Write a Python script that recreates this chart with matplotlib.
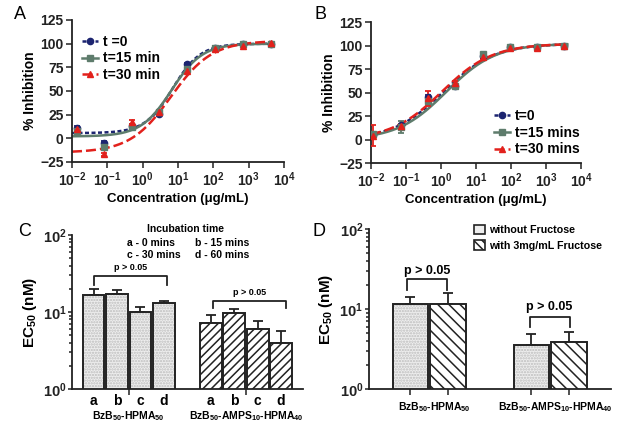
import numpy as np
import matplotlib
matplotlib.use("Agg")
import matplotlib.pyplot as plt
from matplotlib.lines import Line2D

plt.rcParams['font.family'] = ['Liberation Sans', 'DejaVu Sans']
plt.rcParams['font.weight'] = 'bold'
plt.rcParams['mathtext.fontset'] = 'custom'
plt.rcParams['mathtext.rm'] = 'Liberation Sans:bold'
plt.rcParams['mathtext.bf'] = 'Liberation Sans:bold'
plt.rcParams['mathtext.it'] = 'Liberation Sans:bold'
plt.rcParams['hatch.linewidth'] = 1.1

# ---- panel A data ----
conc_a = [0.0136, 0.082, 0.49, 2.95, 18.5, 108, 690, 4200]
a_t0 = [10.6, -5.3, 13.4, 25.8, 78, 95.6, 99.8, 100]
a_t15 = [8.1, -8.8, 12.4, 28.2, 73.4, 95, 99.5, 100]
a_t30 = [10, -17, 17, 27.5, 71, 94, 98, 101]
a_err = [2, 2, 2, 2, 2, 1.5, 1, 1]
# fitted 4PL params: bottom, top, logEC50, hill
fit_a_t0 = (5.5, 100, 0.85, 1.1)
fit_a_t15 = (2, 100, 0.82, 1.0)
fit_a_t30 = (-15, 103, 0.8, 0.75)

# ---- panel B data ----
conc_b = [0.0115, 0.071, 0.42, 2.55, 15.3, 92, 550, 3300]
b_t0 = [5.3, 15.2, 45, 56.6, 88.5, 98, 98.5, 100]
b_t15 = [6, 13.4, 41.4, 56.6, 91, 98, 98.5, 100]
b_t30 = [4.5, 15, 44, 60.2, 87.4, 97.5, 97.3, 99.3]
b_err_t0 = [2, 2, 2, 2, 1.5, 1, 1, 1]
b_err_t15 = [2, 6, 2, 2, 1.5, 1, 1, 1]
b_err_t30 = [11.5, 2, 8, 2, 1.5, 1, 1, 1]
fit_b_t0 = (0, 102, 0.07, 0.6)
fit_b_t15 = (0, 102, 0.15, 0.62)
fit_b_t30 = (0, 102, 0.02, 0.6)

# ---- panel C data ----
c_groups = ['BzB$_{50}$-HPMA$_{50}$', 'BzB$_{50}$-AMPS$_{10}$-HPMA$_{40}$']
c_letters = ['a', 'b', 'c', 'd']
c_hpma = [16.6, 17.3, 10.1, 13.0]
c_hpma_err = [3.1, 2.0, 1.4, 1.0]
c_amps = [7.3, 9.6, 6.0, 3.9]
c_amps_err = [1.8, 1.2, 1.6, 1.7]

# ---- panel D data ----
d_groups = ['BzB$_{50}$-HPMA$_{50}$', 'BzB$_{50}$-AMPS$_{10}$-HPMA$_{40}$']
d_without = [11.5, 3.5]
d_without_err = [2.4, 1.3]
d_with = [11.4, 3.8]
d_with_err = [4.2, 1.3]

BLUE = '#1c2470'
GREEN = '#5e7c6c'
RED = '#e2211c'
DARK = '#222222'


def fourpl(x, p):
    bottom, top, logec, hill = p
    return bottom + (top - bottom) / (1 + 10 ** ((logec - np.log10(x)) * hill))


def style_axis(ax, fs=10):
    for s in ['top', 'right']:
        ax.spines[s].set_visible(False)
    for s in ['left', 'bottom']:
        ax.spines[s].set_linewidth(1.3)
        ax.spines[s].set_color(DARK)
    ax.tick_params(which='both', direction='out', width=1.1, colors=DARK, labelsize=fs)
    ax.tick_params(which='major', length=4, pad=2)
    ax.tick_params(which='minor', length=2)


def dose_panel(ax, conc, series, errs, fits, labels, leg_loc, leg_anchor):
    xs = np.logspace(-2, 3.6, 300)
    cols = [BLUE, GREEN, RED]
    marks = ['o', 's', '^']
    dashes = [(1.6, 1.0), None, (4.0, 1.6)]
    handles = []
    for y, e, p, c, m, d, lab in zip(series, errs, fits, cols, marks, dashes, labels):
        ln, = ax.plot(xs, fourpl(xs, p), color=c, lw=1.8)
        if d is not None:
            ln.set_dashes(d)
        ax.errorbar(conc, y, yerr=e, fmt=m, color=c, ms=4.5, elinewidth=1.3,
                    capsize=2.5, capthick=1.3, zorder=3)
        h = Line2D([], [], color=c, lw=1.8, marker=m, ms=4.5)
        if d is not None:
            h.set_dashes(d)
        handles.append(h)
    ax.set_xscale('log')
    ax.set_xlim(0.01, 10000)
    ax.set_ylim(-25, 125)
    ax.set_yticks([-25, 0, 25, 50, 75, 100, 125])
    ax.set_xticks([1e-2, 1e-1, 1, 10, 100, 1e3, 1e4])
    ax.set_xticklabels([r'$10^{-2}$', r'$10^{-1}$', r'$10^{0}$', r'$10^{1}$',
                        r'$10^{2}$', r'$10^{3}$', r'$10^{4}$'])
    ax.set_xlabel('Concentration (\u03bcg/mL)', fontsize=9.5, fontweight='bold', labelpad=3)
    ax.set_ylabel('% Inhibition', fontsize=10, fontweight='bold', labelpad=2)
    style_axis(ax, 10)
    ax.legend(handles, labels, loc=leg_loc, bbox_to_anchor=leg_anchor, frameon=False,
              handlelength=1.1, handletextpad=0.35, labelspacing=0.2,
              prop={'weight': 'bold', 'size': 10})


fig = plt.figure(figsize=(6.24, 4.28), dpi=100)

# A
axA = fig.add_axes([0.1154, 0.6215, 0.3397, 0.3318])
dose_panel(axA, conc_a, [a_t0, a_t15, a_t30], [a_err, a_err, a_err],
           [fit_a_t0, fit_a_t15, fit_a_t30], ['t =0', 't=15 min', 't=30 min'],
           'upper left', (-0.01, 0.985))

# B
axB = fig.add_axes([0.5946, 0.6185, 0.337, 0.330])
dose_panel(axB, conc_b, [b_t0, b_t15, b_t30], [b_err_t0, b_err_t15, b_err_t30],
           [fit_b_t0, fit_b_t15, fit_b_t30], ['t=0', 't=15 mins', 't=30 mins'],
           'lower right', (1.05, -0.04))


def draw_bars(ax, x, h, err, width, hatched, hatch):
    if hatched:
        ax.bar(x, h, width, color='white', edgecolor=DARK, hatch=hatch, lw=0, zorder=2)
    else:
        ax.bar(x, h, width, color='#eeeeee', edgecolor='#bdbdbd', hatch='......', lw=0, zorder=2)
    ax.bar(x, h, width, fill=False, edgecolor=DARK, lw=1.4, zorder=3)
    ax.errorbar(x, h, yerr=[np.zeros(len(h)), err], fmt='none', ecolor=DARK,
                elinewidth=1.3, capsize=3.5, capthick=1.3, zorder=1)


def bracket(ax, x0, x1, ytop, ybot, txt, ty, fs):
    ax.plot([x0, x0, x1, x1], [ybot, ytop, ytop, ybot], color=DARK, lw=1.3, zorder=4)
    ax.text((x0 + x1) / 2, ty, txt, ha='center', va='center', fontsize=fs, fontweight='bold')


def log_y(ax):
    ax.set_yscale('log')
    ax.set_ylim(1, 100)
    ax.set_yticks([1, 10, 100])
    ax.set_yticklabels([r'$10^{0}$', r'$10^{1}$', r'$10^{2}$'])
    ax.set_ylabel('EC$_{50}$ (nM)', fontsize=11, fontweight='bold', labelpad=3)


# C
axC = fig.add_axes([0.1154, 0.0911, 0.3707, 0.3598])
pos1 = np.arange(len(c_letters))
pos2 = pos1 + len(c_letters) + 1
draw_bars(axC, pos1, c_hpma, c_hpma_err, 0.93, False, None)
draw_bars(axC, pos2, c_amps, c_amps_err, 0.93, True, '////')
log_y(axC)
axC.set_xlim(-0.92, 8.95)
axC.set_xticks([pos1.mean(), pos2.mean()])
axC.set_xticklabels([])
style_axis(axC, 10.5)
axC.tick_params(axis='y', which='major', length=3, pad=1)
for p, l in zip(list(pos1) + list(pos2), c_letters * 2):
    axC.text(p, -0.03, l, transform=axC.get_xaxis_transform(), ha='center', va='top',
             fontsize=10, fontweight='bold')
axC.text(pos1.mean(), -0.128, c_groups[0], transform=axC.get_xaxis_transform(),
         ha='center', va='top', fontsize=7.5, fontweight='bold')
axC.text(pos2.mean(), -0.128, c_groups[1], transform=axC.get_xaxis_transform(),
         ha='center', va='top', fontsize=7.5, fontweight='bold')
bracket(axC, 0.0, 3.15, 29.6, 22.4, 'p > 0.05', 38.4, 6.5)
bracket(axC, 5.1, 8.2, 13.9, 11.2, 'p > 0.05', 18.0, 6.5)
axC.text(0.49, 1.04, 'Incubation time', transform=axC.transAxes, ha='center', va='center',
         fontsize=7.5, fontweight='bold')
for tx, ty, s in [(0.237, 0.948, 'a - 0 mins'), (0.532, 0.948, 'b - 15 mins'),
                  (0.237, 0.872, 'c - 30 mins'), (0.532, 0.872, 'd - 60 mins')]:
    axC.text(tx, ty, s, transform=axC.transAxes, ha='left', va='center',
             fontsize=7.5, fontweight='bold')

# D
axD = fig.add_axes([0.5909, 0.0918, 0.3878, 0.3731])
gpos = np.arange(len(d_groups))
off = 0.155
draw_bars(axD, gpos - off, d_without, d_without_err, 0.29, False, None)
draw_bars(axD, gpos + off, d_with, d_with_err, 0.29, True, '\\\\\\')
log_y(axD)
axD.set_xlim(-0.5, 1.5)
axD.set_xticks(np.concatenate([gpos - off, gpos + off]))
axD.set_xticklabels([])
style_axis(axD, 10.5)
axD.tick_params(axis='y', which='major', length=3, pad=1)
for p, g in zip(gpos, d_groups):
    axD.text(p + 0.04, -0.07, g, transform=axD.get_xaxis_transform(), ha='center', va='top',
             fontsize=7.5, fontweight='bold')
bracket(axD, -0.186, 0.145, 23.6, 17.4, 'p > 0.05', 29.4, 9)
bracket(axD, 0.83, 1.16, 7.9, 5.9, 'p > 0.05', 10.5, 9)
hl = [plt.Rectangle((0, 0), 1, 1, facecolor='#eeeeee', edgecolor=DARK, lw=1.2),
      plt.Rectangle((0, 0), 1, 1, facecolor='white', edgecolor=DARK, hatch='\\\\\\\\', lw=1.2)]
axD.legend(hl, ['without Fructose', 'with 3mg/mL Fructose'], loc='upper left',
           bbox_to_anchor=(0.395, 1.088), frameon=False, handlelength=1.0, handleheight=1.0,
           handletextpad=0.45, labelspacing=0.5, prop={'weight': 'bold', 'size': 7.7})

# panel letters
for x, y, s in [(0.032, 0.965, 'A'), (0.514, 0.965, 'B'), (0.04, 0.458, 'C'), (0.511, 0.46, 'D')]:
    fig.text(x, y, s, fontsize=13, fontweight='normal', ha='center', va='center')

fig.savefig('out.png', dpi=100)
